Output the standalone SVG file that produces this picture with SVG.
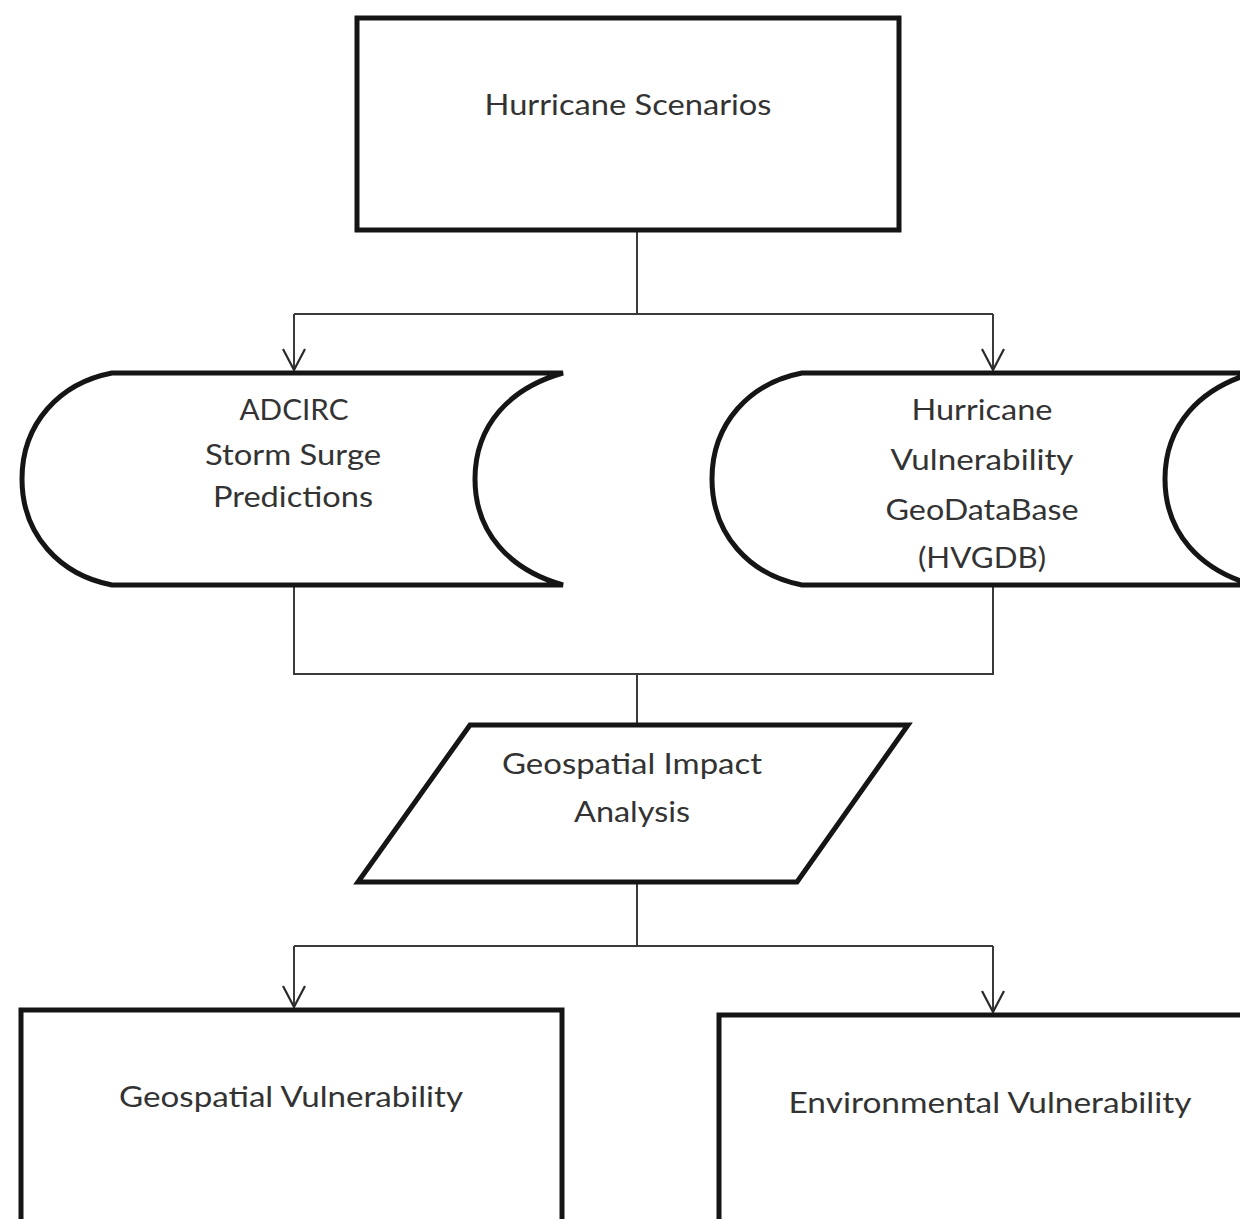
<svg xmlns="http://www.w3.org/2000/svg" width="1240" height="1219" viewBox="0 0 1240 1219">
<defs>
<style>
.node{fill:#fff;stroke:#151515;stroke-width:5;stroke-linejoin:miter}
.conn{fill:none;stroke:#3a3a3a;stroke-width:2}
.lbl{font-family:Lato,"Liberation Sans",sans-serif;font-size:29px;fill:#333;text-anchor:middle}
</style>
<marker id="arr" viewBox="0 0 24 24" refX="22" refY="12" markerWidth="24" markerHeight="24" markerUnits="userSpaceOnUse" orient="auto">
<path d="M1,1 L22,12 L1,23" fill="none" stroke="#2a2a2a" stroke-width="2.2"/>
</marker>
</defs>
<rect width="1240" height="1219" fill="#fff"/>
<g id="connectors">
<path class="conn" d="M637,230 V314 M294,314 H993"/>
<path class="conn" d="M294,314 V370" marker-end="url(#arr)"/>
<path class="conn" d="M993,314 V370" marker-end="url(#arr)"/>
<path class="conn" d="M294,585 V674 H993 V585 M637,674 V725"/>
<path class="conn" d="M637,882 V946 M294,946 H993"/>
<path class="conn" d="M294,946 V1007" marker-end="url(#arr)"/>
<path class="conn" d="M993,946 V1012" marker-end="url(#arr)"/>
</g>
<g id="hurricane-scenarios">
<rect class="node" x="357" y="18" width="542" height="212"/>
<text class="lbl" x="628" y="115" textLength="287" lengthAdjust="spacingAndGlyphs">Hurricane Scenarios</text>
</g>
<g id="adcirc">
<path class="node" d="M112,373 L563,373 C510,388 475,425 475,479 C475,533 510,570 563,585 L112,585 C60,575 22,535 22,479 C22,423 60,383 112,373 Z"/>
<text class="lbl" x="294" y="420" textLength="109" lengthAdjust="spacingAndGlyphs">ADCIRC</text>
<text class="lbl" x="293" y="465" textLength="176" lengthAdjust="spacingAndGlyphs">Storm Surge</text>
<text class="lbl" x="293" y="507" textLength="160" lengthAdjust="spacingAndGlyphs">Predictions</text>
</g>
<g id="hvgdb">
<path class="node" d="M802,373 L1253,373 C1200,388 1165,425 1165,479 C1165,533 1200,570 1253,585 L802,585 C750,575 712,535 712,479 C712,423 750,383 802,373 Z"/>
<text class="lbl" x="982" y="420" textLength="141" lengthAdjust="spacingAndGlyphs">Hurricane</text>
<text class="lbl" x="982" y="470" textLength="183" lengthAdjust="spacingAndGlyphs">Vulnerability</text>
<text class="lbl" x="982" y="520" textLength="193" lengthAdjust="spacingAndGlyphs">GeoDataBase</text>
<text class="lbl" x="982" y="568" textLength="128" lengthAdjust="spacingAndGlyphs">(HVGDB)</text>
</g>
<g id="geospatial-impact-analysis">
<path class="node" d="M470,725 L908,725 L797,882 L358,882 Z"/>
<text class="lbl" x="632" y="774" textLength="260" lengthAdjust="spacingAndGlyphs">Geospatial Impact</text>
<text class="lbl" x="632" y="822" textLength="116" lengthAdjust="spacingAndGlyphs">Analysis</text>
</g>
<g id="geospatial-vulnerability">
<rect class="node" x="21" y="1010" width="541" height="240"/>
<text class="lbl" x="291" y="1107" textLength="344" lengthAdjust="spacingAndGlyphs">Geospatial Vulnerability</text>
</g>
<g id="environmental-vulnerability">
<rect class="node" x="719" y="1015" width="560" height="240"/>
<text class="lbl" x="990" y="1113" textLength="403" lengthAdjust="spacingAndGlyphs">Environmental Vulnerability</text>
</g>
</svg>
